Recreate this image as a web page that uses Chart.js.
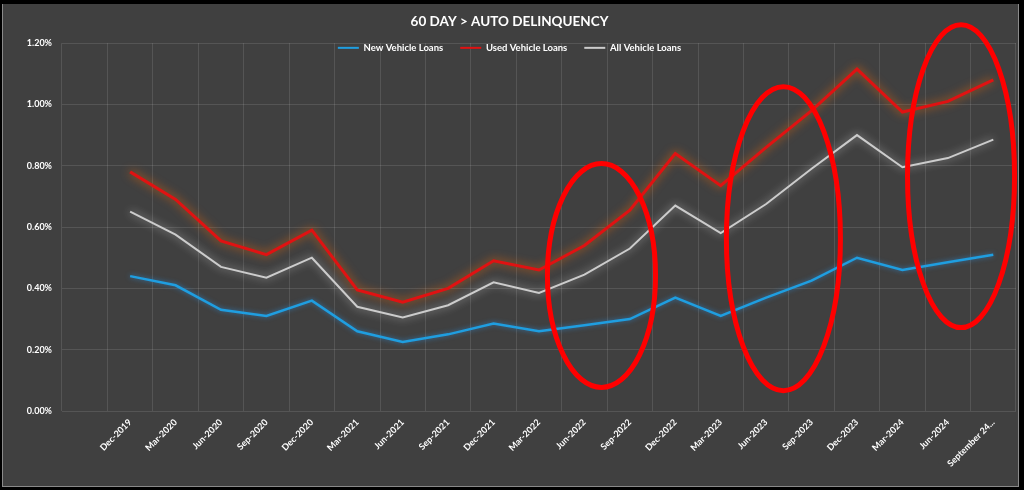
<!DOCTYPE html>
<html>
<head>
<meta charset="utf-8">
<script src="https://cdn.jsdelivr.net/npm/chart.js@4.4.1/dist/chart.umd.min.js"></script>
<style>
  html, body { margin: 0; padding: 0; background: #000; width: 1024px; height: 490px; overflow: hidden; }
  #frame { position: absolute; left: 2px; top: 4px; width: 1015px; height: 482px; background: #404040;
           border-left: 1px solid #8a8a8a; border-right: 1px solid #8a8a8a; border-bottom: 1px solid #8a8a8a; }
  #c { display: block; }
</style>
</head>
<body>
<div id="frame"><canvas id="c" width="1015" height="482"></canvas></div>
<script>
// ---- data ----
const categories = ['', 'Dec-2019', 'Mar-2020', 'Jun-2020', 'Sep-2020', 'Dec-2020', 'Mar-2021', 'Jun-2021',
  'Sep-2021', 'Dec-2021', 'Mar-2022', 'Jun-2022', 'Sep-2022', 'Dec-2022', 'Mar-2023', 'Jun-2023',
  'Sep-2023', 'Dec-2023', 'Mar-2024', 'Jun-2024', 'September 24...'];
const newVehicleLoans  = [null, 0.44, 0.41, 0.33, 0.31, 0.36, 0.26, 0.225, 0.25, 0.285, 0.26, 0.28, 0.30, 0.37, 0.31, 0.37, 0.425, 0.50, 0.46, 0.485, 0.51];
const usedVehicleLoans = [null, 0.78, 0.69, 0.555, 0.51, 0.59, 0.395, 0.355, 0.40, 0.49, 0.46, 0.54, 0.655, 0.84, 0.735, 0.86, 0.98, 1.115, 0.975, 1.01, 1.08];
const allVehicleLoans  = [null, 0.65, 0.575, 0.47, 0.435, 0.50, 0.34, 0.305, 0.345, 0.42, 0.385, 0.445, 0.53, 0.67, 0.58, 0.675, 0.79, 0.90, 0.795, 0.825, 0.885];
const yTickMax = 1.2;
const yTickStep = 0.2;

// highlight ellipses (annotation, in data units: category index / percent)
const highlightEllipses = [
  { cx: 11.375, cy: 0.442, rx: 1.19, ry: 0.365 },
  { cx: 15.38,  cy: 0.562, rx: 1.255, ry: 0.496 },
  { cx: 19.29,  cy: 0.766, rx: 1.178, ry: 0.494 }
];

const FONT = "Lato, 'Open Sans', sans-serif";

const glowPlugin = {
  id: 'glow',
  beforeDatasetDraw(chart, args) {
    const ds = chart.data.datasets[args.index];
    const ctx = chart.ctx;
    ctx.save();
    ctx.shadowColor = ds.glowColor || 'transparent';
    ctx.shadowBlur = ds.glowBlur || 0;
  },
  afterDatasetDraw(chart) {
    chart.ctx.restore();
  }
};

// legend sits partly inside the plot area (as in the original): widen its clip box after layout
const legendOverlapPlugin = {
  id: 'legendOverlap',
  afterLayout(chart) {
    const l = chart.legend;
    if (l) { l.bottom = l.top + 40; l.height = 40; }
  }
};

const ellipsePlugin = {
  id: 'ellipses',
  afterDatasetsDraw(chart, args, opts) {
    const ctx = chart.ctx;
    const xs = chart.scales.x, ys = chart.scales.y;
    ctx.save();
    ctx.strokeStyle = opts.color;
    ctx.lineWidth = opts.width;
    (opts.items || []).forEach(e => {
      const px = xs.getPixelForValue(e.cx);
      const py = ys.getPixelForValue(e.cy);
      const rx = Math.abs(xs.getPixelForValue(e.cx + e.rx) - px);
      const ry = Math.abs(ys.getPixelForValue(e.cy + e.ry) - py);
      ctx.beginPath();
      ctx.ellipse(px, py, rx, ry, 0, 0, Math.PI * 2);
      ctx.stroke();
    });
    ctx.restore();
  }
};

new Chart(document.getElementById('c'), {
  type: 'line',
  data: {
    labels: categories,
    datasets: [
      { label: 'New Vehicle Loans', data: newVehicleLoans, borderColor: '#1f9ee0', backgroundColor: '#1f9ee0',
        borderWidth: 2.5, pointRadius: 0, tension: 0, glowColor: 'rgba(40,160,255,0.55)', glowBlur: 5 },
      { label: 'Used Vehicle Loans', data: usedVehicleLoans, borderColor: '#e01212', backgroundColor: '#e01212',
        borderWidth: 3, pointRadius: 0, tension: 0, glowColor: 'rgba(255,110,0,0.8)', glowBlur: 10 },
      { label: 'All Vehicle Loans', data: allVehicleLoans, borderColor: '#cccccc', backgroundColor: '#cccccc',
        borderWidth: 2, pointRadius: 0, tension: 0, glowColor: 'rgba(255,255,255,0.6)', glowBlur: 8 }
    ]
  },
  options: {
    responsive: false,
    animation: false,
    events: [],
    layout: { padding: { top: 0, left: 0, right: 2, bottom: 0 } },
    plugins: {
      title: {
        display: true,
        text: '60 DAY > AUTO DELINQUENCY',
        color: '#ffffff',
        font: { family: FONT, size: 13.5, weight: 'bold', lineHeight: 0.6 },
        padding: { top: 14, bottom: 0 }
      },
      legend: {
        display: true,
        position: 'top',
        maxHeight: 17,
        labels: {
          color: '#ffffff',
          font: { family: FONT, size: 9.5, weight: 'bold' },
          boxWidth: 21,
          boxHeight: 2,
          padding: 17,
          generateLabels(chart) {
            const items = Chart.defaults.plugins.legend.labels.generateLabels(chart);
            return items.map(it => Object.assign(it, { lineWidth: 0, fillStyle: it.strokeStyle }));
          }
        }
      },
      tooltip: { enabled: false },
      ellipses: { items: highlightEllipses, color: '#ff0000', width: 5 }
    },
    scales: {
      x: {
        type: 'category',
        offset: true,
        grid: { color: 'rgba(255,255,255,0.11)', offset: true, drawTicks: false },
        border: { display: false },
        ticks: {
          color: '#ffffff',
          font: { family: FONT, size: 9, weight: 'bold' },
          minRotation: 45, maxRotation: 45, autoSkip: false, padding: 6
        },
        afterFit(scale) { scale.height = 75; }
      },
      y: {
        min: 0, max: yTickMax,
        grid: { color: 'rgba(255,255,255,0.11)', drawTicks: false },
        border: { display: false },
        ticks: {
          stepSize: yTickStep,
          color: '#ffffff',
          font: { family: FONT, size: 9, weight: 'bold' },
          padding: 10,
          callback: v => v.toFixed(2) + '%'
        },
        afterFit(scale) { scale.width = 59; }
      }
    }
  },
  plugins: [glowPlugin, legendOverlapPlugin, ellipsePlugin]
});
</script>
</body>
</html>
